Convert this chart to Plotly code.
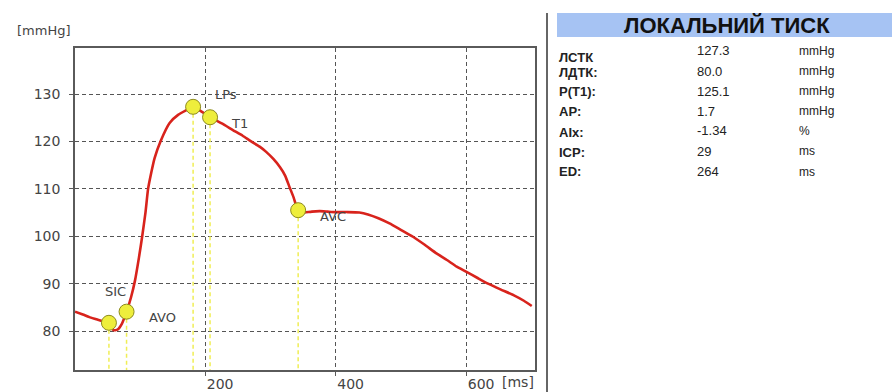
import plotly.graph_objects as go

# Local pressure waveform (ms, mmHg)
time_ms = [0, 12, 23, 35, 45, 52, 59, 65, 72, 79, 86, 92, 98, 103, 108, 112, 117, 122, 131,
           145, 158, 171, 181, 194, 207, 225, 242, 257, 270, 283, 293, 304, 314, 322, 329,
           335, 339, 342, 346, 352, 363, 375, 387, 398, 418, 436, 449, 465, 482, 500, 518,
           536, 554, 570, 585, 600, 617, 633, 652, 672, 688, 700]
pressure = [84.1, 83.5, 82.9, 82.4, 82.0, 81.75, 80.2, 80.3, 81.6, 84.1, 87.2, 90.7, 95.5,
            100.0, 105.0, 110.0, 113.5, 116.5, 120.0, 123.9, 125.6, 126.6, 127.3, 126.3,
            125.1, 123.8, 122.4, 121.2, 120.0, 118.9, 117.8, 116.3, 114.6, 112.8, 110.3,
            108.2, 106.4, 105.5, 105.0, 105.0, 105.2, 105.3, 105.2, 105.1, 105.1, 105.0,
            104.6, 103.8, 102.7, 101.3, 99.9, 98.2, 96.4, 95.0, 93.6, 92.5, 91.2, 90.0,
            88.8, 87.6, 86.4, 85.3]

# Characteristic points on the waveform
point_names = ["SIC", "AVO", "LPs", "T1", "AVC"]
point_t = [52, 79, 181, 207, 342]
point_p = [81.75, 84.1, 127.3, 125.1, 105.5]
label_shift = [(7, 31), (20, -6), (20, 12), (19, -6), (20, -6)]
label_anchor = ["center", "left", "left", "left", "left"]

x_ticks = [200, 400, 600]
y_ticks = [80, 90, 100, 110, 120, 130]
x_range = [0, 705]
y_range = [71.8, 139.7]

# Summary table
param_names = ["ЛСТК", "ЛДТК:", "P(T1):", "AP:", "AIx:", "ICP:", "ED:"]
param_values = ["127.3", "80.0", "125.1", "1.7", "-1.34", "29", "264"]
param_units = ["mmHg", "mmHg", "mmHg", "mmHg", "%", "ms", "ms"]
name_rows_px = [57, 72, 91, 111, 132, 152, 172]
value_rows_px = [51, 71, 91, 111, 131, 151, 172]

W, H = 892, 392
PX0, PX1, PY0, PY1 = 75, 535, 48, 370

fig = go.Figure()

# drop lines from each point to the bottom of the plot
for t, p in zip(point_t, point_p):
    fig.add_trace(go.Scatter(x=[t, t], y=[p, y_range[0]], mode="lines",
                             line=dict(color="#f0ee55", width=1.5, dash="4px,3px"),
                             hoverinfo="skip", showlegend=False))

fig.add_trace(go.Scatter(x=time_ms, y=pressure, mode="lines",
                         line=dict(color="#d8231c", width=2.6, shape="spline", smoothing=0.5),
                         showlegend=False))

fig.add_trace(go.Scatter(x=point_t, y=point_p, mode="markers",
                         marker=dict(size=15, color="#eeee3c", line=dict(color="#8c8a1e", width=1)),
                         showlegend=False))

lab_font = dict(family="DejaVu Sans", size=13, color="#444444")
for name, t, p, (dx, dy), anc in zip(point_names, point_t, point_p, label_shift, label_anchor):
    fig.add_annotation(x=t, y=p, xref="x", yref="y", text=name, showarrow=False,
                       xanchor=anc, yanchor="middle",
                       xshift=dx, yshift=dy, font=lab_font)

grid = dict(showgrid=True, gridcolor="#555555", gridwidth=1, griddash="4px,3px",
            showline=True, linecolor="#5a5a5a", linewidth=1.5, mirror=True,
            zeroline=False, ticks="outside", ticklen=4, tickcolor="#5a5a5a",
            tickfont=dict(family="DejaVu Sans", size=14, color="#444444"))

fig.update_xaxes(range=x_range, tickvals=x_ticks, ticktext=[str(v) for v in x_ticks],
                 domain=[PX0 / W, PX1 / W], ticklabelposition="outside right", **grid)
fig.update_yaxes(range=y_range, tickvals=y_ticks, ticktext=[str(v) for v in y_ticks],
                 domain=[1 - PY1 / H, 1 - PY0 / H], ticklabelstandoff=6, **grid)

# axis unit labels
fig.add_annotation(x=15 / W, y=1 - 30 / H, xref="paper", yref="paper", text="[mmHg]",
                   showarrow=False, xanchor="left", yanchor="middle",
                   font=dict(family="DejaVu Sans", size=13, color="#444444"))
fig.add_annotation(x=500 / W, y=1 - 382 / H, xref="paper", yref="paper", text="[ms]",
                   showarrow=False, xanchor="left", yanchor="middle",
                   font=dict(family="DejaVu Sans", size=14, color="#444444"))

# right-hand panel: separator, header band, parameters
fig.add_shape(type="line", xref="paper", yref="paper", x0=547 / W, x1=547 / W,
              y0=0, y1=1 - 13 / H, line=dict(color="#666666", width=2))
fig.add_shape(type="rect", xref="paper", yref="paper", x0=557 / W, x1=1,
              y0=1 - 37 / H, y1=1 - 13 / H, fillcolor="#a6c3f3", line=dict(width=0))
fig.add_annotation(x=727 / W, y=1 - 25 / H, xref="paper", yref="paper",
                   text="<b>ЛОКАЛЬНИЙ ТИСК</b>", showarrow=False,
                   xanchor="center", yanchor="middle",
                   font=dict(family="Liberation Sans", size=22, color="#111111"))

tab_font = dict(family="Liberation Sans", size=13, color="#222222")
unit_font = dict(family="Liberation Sans", size=12, color="#222222")
for name, val, unit, ny, vy in zip(param_names, param_values, param_units,
                                   name_rows_px, value_rows_px):
    fig.add_annotation(x=557 / W, y=1 - ny / H, xref="paper", yref="paper",
                       text=f"<b>{name}</b>", showarrow=False, xanchor="left",
                       yanchor="middle", font=tab_font)
    fig.add_annotation(x=695 / W, y=1 - vy / H, xref="paper", yref="paper",
                       text=val, showarrow=False, xanchor="left",
                       yanchor="middle", font=tab_font)
    fig.add_annotation(x=797 / W, y=1 - vy / H, xref="paper", yref="paper",
                       text=unit, showarrow=False, xanchor="left",
                       yanchor="middle", font=unit_font)

fig.update_layout(width=W, height=H, margin=dict(l=0, r=0, t=0, b=0),
                  paper_bgcolor="white", plot_bgcolor="white")

fig.write_html("out.html")
